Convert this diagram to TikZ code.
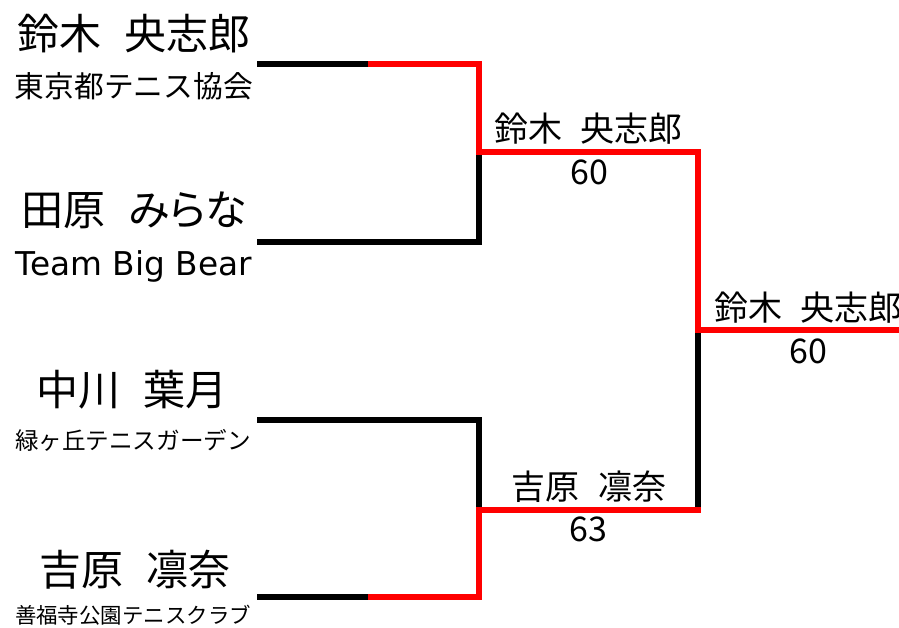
\documentclass[tikz,border=0pt]{standalone}
\usepackage{graphicx}
\usepackage{fontspec}
\setmainfont{Noto Sans CJK JP}
\newfontfamily\jp{Noto Sans CJK JP}
\newfontfamily\jpp[RawFeature=+palt]{Noto Sans CJK JP}
\newfontfamily\lat{DejaVu Sans}
\definecolor{winred}{RGB}{255,0,0}
\newcommand{\nm}[2]{#1\hspace{0.55em}#2}
\tikzset{
  bigname/.style={inner sep=0pt, anchor=center, font=\jp\fontsize{42}{42}\selectfont},
  club/.style={inner sep=0pt, anchor=center},
  rname/.style={inner sep=0pt, anchor=center, font=\jp\fontsize{34}{34}\selectfont},
  score/.style={inner sep=0pt, anchor=center, font=\jp\fontsize{34}{34}\selectfont},
  loser/.style={line width=6pt, black, line cap=butt, line join=miter},
  winner/.style={line width=6pt, winred, line cap=butt, line join=miter},
}
\begin{document}
\begin{tikzpicture}[x=1pt, y=-1pt]
\useasboundingbox (0,0) rectangle (899,628);
\clip (0,0) rectangle (899,628);

% players
\node[bigname] (p1) at (134,34) {\nm{鈴木}{央志郎}};
\node[club] (c1) at (134,86.5) {\resizebox{238pt}{!}{\jp 東京都テニス協会}};
\node[bigname] (p2) at (134,210.5) {\nm{田原}{\jpp みらな}};
\node[club] (c2) at (134,266.5) {\resizebox{236pt}{!}{\lat Team Big Bear}};
\node[bigname] (p3) at (132,389.5) {\nm{中川}{葉月}};
\node[club] (c3) at (133,440) {\resizebox{236pt}{!}{\jp 緑ヶ丘テニスガーデン}};
\node[bigname] (p4) at (135,569.5) {\nm{吉原}{凛奈}};
\node[club] (c4) at (133,615) {\resizebox{236pt}{!}{\jp 善福寺公園テニスクラブ}};

% round 2 labels
\node[rname] (w1) at (588.5,129) {\nm{鈴木}{央志郎}};
\node[score] (s1) at (589,172.5) {60};
\node[rname] (w2) at (589,486.5) {\nm{吉原}{凛奈}};
\node[score] (s2) at (588,529) {63};

% final
\node[rname] (w3) at (808.5,307.5) {\nm{鈴木}{央志郎}};
\node[score] (s3) at (808.5,351) {60};

% bracket coordinates
\coordinate (a0) at (257,64);
\coordinate (a1) at (368,64);
\coordinate (a2) at (478.5,64);
\coordinate (m1) at (478.5,152);
\coordinate (b0) at (257,242);
\coordinate (b2) at (478.5,242);
\coordinate (m1r) at (697.5,152);
\coordinate (f) at (697.5,330);
\coordinate (fe) at (899,330);
\coordinate (c0) at (257,420);
\coordinate (c2) at (478.5,420);
\coordinate (m2) at (478.5,509.5);
\coordinate (m2r) at (697.5,509.5);
\coordinate (m2e) at (700.5,509.5);
\coordinate (d0) at (257,597);
\coordinate (d1) at (368,597);
\coordinate (d2) at (478.5,597);

% losers (black)
\draw[loser] (a0) -- (a1);
\draw[loser] (b0) -- (b2) -- (m1);
\draw[loser] (c0) -- (c2) -- (m2);
\draw[loser] (d0) -- (d1);
\draw[loser] (m2r) -- (f);

% winners (red)
\draw[winner] (a1) -- (a2) -- (m1) -- (m1r) -- (f) -- (fe);
\draw[winner] (d1) -- (d2) -- (m2) -- (m2e);
\end{tikzpicture}
\end{document}
